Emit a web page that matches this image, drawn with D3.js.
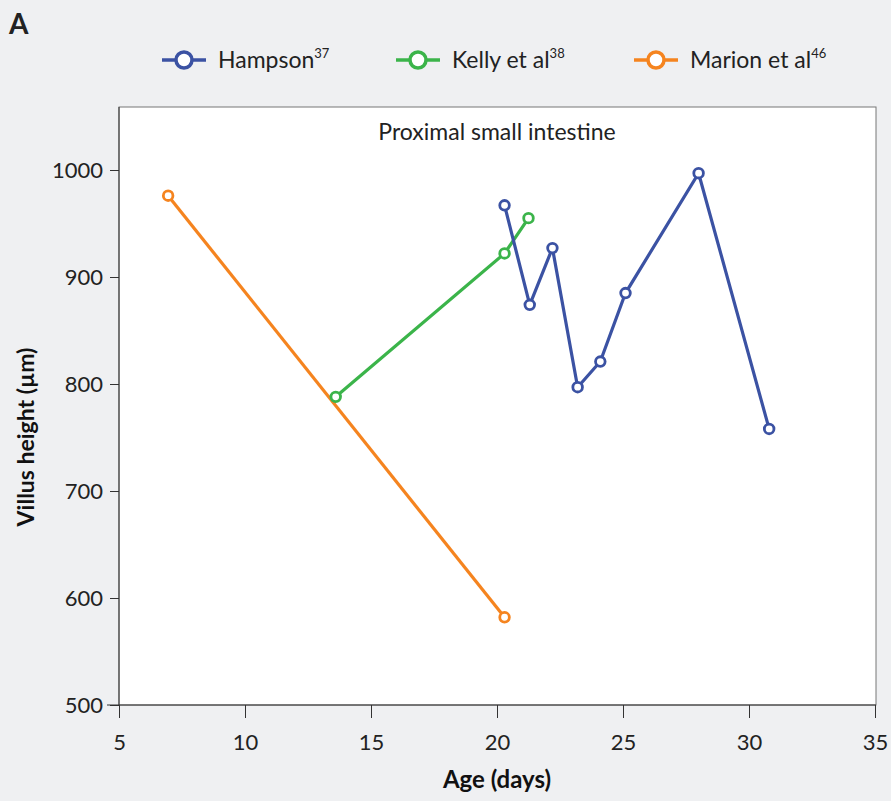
<!DOCTYPE html>
<html>
<head>
<meta charset="utf-8">
<script src="https://cdn.jsdelivr.net/npm/d3@7"></script>
<style>
  body { margin: 0; background: #eff0f2; }
  svg { display: block; font-family: Lato, "Open Sans", sans-serif; }
</style>
</head>
<body>
<div id="vis"></div>
<script>
// chart data
var seriesNames = ["Hampson", "Kelly et al", "Marion et al"],
  seriesRefs = ["37", "38", "46"],
  seriesColors = ["#3b52a3", "#3bb44a", "#f5841f"],
  hampsonAge = [20.3, 21.3, 22.2, 23.2, 24.1, 25.1, 28.0, 30.8],
  hampsonHeight = [967, 874, 927, 797, 821, 885, 997, 758],
  kellyAge = [13.6, 20.3, 21.25],
  kellyHeight = [788, 922, 955],
  marionAge = [6.95, 20.3],
  marionHeight = [976, 582],
  xTicks = [5, 10, 15, 20, 25, 30, 35],
  yTicks = [500, 600, 700, 800, 900, 1000];

var width = 891, height = 801,
  plot = {left: 119, right: 876, top: 107, bottom: 705};

var svg = d3.select("#vis").append("svg")
  .attr("width", width)
  .attr("height", height);

var x = d3.scaleLinear().domain([5, 35]).range([plot.left, 875]);
var y = d3.scaleLinear().domain([500, 1000]).range([plot.bottom, 170]);

// plot box
svg.append("rect")
  .attr("x", plot.left).attr("y", plot.top)
  .attr("width", plot.right - plot.left).attr("height", plot.bottom - plot.top)
  .style("fill", "#fff").style("stroke", "#777").style("stroke-width", 1);

// axes
var xAxis = svg.append("g")
  .attr("transform", "translate(0," + plot.bottom + ")")
  .call(d3.axisBottom(x).tickValues(xTicks).tickSize(13).tickPadding(16).tickFormat(d3.format("d")));
var yAxis = svg.append("g")
  .attr("transform", "translate(" + plot.left + ",0)")
  .call(d3.axisLeft(y).tickValues(yTicks).tickSize(9).tickPadding(7).tickFormat(d3.format("d")));

[xAxis, yAxis].forEach(function(a) {
  a.select(".domain").remove();
  a.selectAll("line").style("stroke", "#333");
  a.selectAll("text").style("font-size", "22px").style("fill", "#222")
    .style("font-family", "Lato, sans-serif");
});
svg.append("line")
  .attr("x1", plot.left - 12).attr("x2", plot.right)
  .attr("y1", plot.bottom).attr("y2", plot.bottom)
  .style("stroke", "#333");
svg.append("line")
  .attr("x1", plot.left).attr("x2", plot.left)
  .attr("y1", plot.top).attr("y2", plot.bottom)
  .style("stroke", "#333");

// labels
svg.append("text").attr("x", 9).attr("y", 34).text("A")
  .style("font-size", "28px").style("font-weight", "bold").style("fill", "#222");
svg.append("text").attr("x", 497).attr("y", 140)
  .style("text-anchor", "middle").style("font-size", "23px").style("fill", "#222")
  .text("Proximal small intestine");
svg.append("text").attr("x", 497).attr("y", 788)
  .style("text-anchor", "middle").style("font-size", "24px").style("font-weight", "bold")
  .style("fill", "#111").text("Age (days)");
svg.append("text")
  .attr("transform", "translate(34,437) rotate(-90)")
  .style("text-anchor", "middle").style("font-size", "23px").style("font-weight", "bold")
  .style("fill", "#111").text("Villus height (µm)");

// series
var series = [
  {name: seriesNames[0], color: seriesColors[0], values: d3.zip(hampsonAge, hampsonHeight)},
  {name: seriesNames[1], color: seriesColors[1], values: d3.zip(kellyAge, kellyHeight)},
  {name: seriesNames[2], color: seriesColors[2], values: d3.zip(marionAge, marionHeight)}
];
var line = d3.line().x(function(d) { return x(d[0]); }).y(function(d) { return y(d[1]); });

var g = svg.selectAll("g.series")
  .data(series.slice().reverse())
  .enter().append("g").attr("class", "series");
g.append("path")
  .attr("d", function(d) { return line(d.values); })
  .style("fill", "none")
  .style("stroke", function(d) { return d.color; })
  .style("stroke-width", 3.2);
g.each(function(s) {
  d3.select(this).selectAll("circle")
    .data(s.values).enter().append("circle")
    .attr("cx", function(d) { return x(d[0]); })
    .attr("cy", function(d) { return y(d[1]); })
    .attr("r", 4.8)
    .style("fill", "#fff")
    .style("stroke", s.color)
    .style("stroke-width", 2.8);
});

// legend
var legendX = [162, 396, 634];
var leg = svg.selectAll("g.legend")
  .data(series).enter().append("g").attr("class", "legend")
  .attr("transform", function(d, i) { return "translate(" + legendX[i] + ",60)"; });
leg.append("line").attr("x1", 0).attr("x2", 44)
  .style("stroke", function(d) { return d.color; }).style("stroke-width", 3.5);
leg.append("circle").attr("cx", 22).attr("r", 8)
  .style("fill", "#fff")
  .style("stroke", function(d) { return d.color; }).style("stroke-width", 3.5);
var lt = leg.append("text").attr("x", 56).attr("y", 8)
  .style("font-size", "23px").style("fill", "#222");
lt.append("tspan").text(function(d) { return d.name; });
lt.append("tspan").attr("dy", -10).style("font-size", "13px")
  .text(function(d, i) { return seriesRefs[i]; });
</script>
</body>
</html>
